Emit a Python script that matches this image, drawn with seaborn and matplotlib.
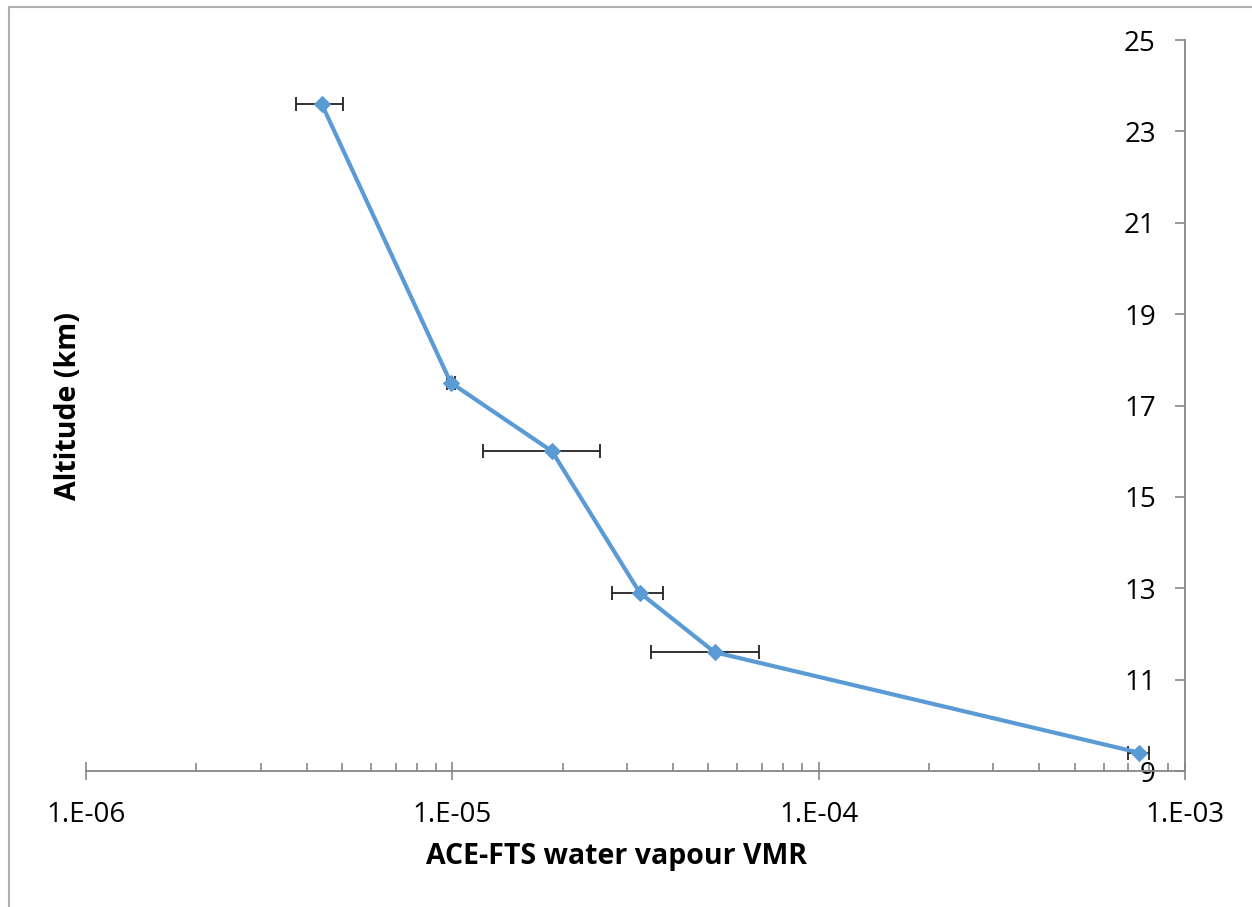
import numpy as np
import pandas as pd
import seaborn as sns
import matplotlib.pyplot as plt
from matplotlib import ticker
from matplotlib.patches import Rectangle

# values
altitude_km = [23.6, 17.5, 16.0, 12.9, 11.6, 9.4]
vmr = [4.4e-6, 9.9e-6, 1.87e-5, 3.25e-5, 5.2e-5, 7.5e-4]
vmr_low = [3.75e-6, 9.67e-6, 1.21e-5, 2.73e-5, 3.49e-5, 7.0e-4]
vmr_high = [5.03e-6, 1.02e-5, 2.53e-5, 3.76e-5, 6.88e-5, 8.0e-4]
y_ticks = [9, 11, 13, 15, 17, 19, 21, 23, 25]

sns.set_style("white")
plt.rcParams['font.family'] = ['Open Sans', 'DejaVu Sans']

df = pd.DataFrame({'vmr': vmr, 'alt': altitude_km})
blue = '#5B9BD5'
grey = '#878787'

fig = plt.figure(figsize=(12.52, 9.07), dpi=100)
ax = fig.add_axes([86 / 1252, 1 - 771 / 907, (1185 - 86) / 1252, (771 - 40) / 907])

xerr = [np.array(vmr) - np.array(vmr_low), np.array(vmr_high) - np.array(vmr)]
ax.errorbar(vmr, altitude_km, xerr=xerr, fmt='none', ecolor='#222222',
            elinewidth=1.3, capsize=5, capthick=1.3, zorder=2)
sns.lineplot(data=df, x='vmr', y='alt', sort=False, estimator=None,
             color=blue, linewidth=3, marker='D', markersize=8,
             markeredgecolor=blue, ax=ax, zorder=3)

ax.set_xscale('log')
ax.set_xlim(1e-6, 1e-3)
ax.set_ylim(9, 25)
ax.set_yticks(y_ticks)

# excel style: value axis sits at the right end, labels inside
ax.spines['left'].set_position(('data', 1e-3))
ax.spines['right'].set_visible(False)
ax.spines['top'].set_visible(False)
for s in ['left', 'bottom']:
    ax.spines[s].set_color(grey)
    ax.spines[s].set_linewidth(1.3)

ax.xaxis.set_major_locator(ticker.LogLocator(base=10, numticks=10))
ax.xaxis.set_minor_locator(ticker.LogLocator(base=10, subs=np.arange(2, 10), numticks=20))
ax.xaxis.set_minor_formatter(ticker.NullFormatter())
ax.xaxis.set_major_formatter(ticker.FuncFormatter(lambda v, p: "1.E-%02d" % round(-np.log10(v))))

ax.tick_params(axis='x', which='both', bottom=True)
ax.tick_params(axis='y', which='major', left=True)
ax.tick_params(axis='x', which='major', direction='inout', length=13, width=1.2,
               color=grey, labelsize=20, pad=15, labelcolor='black')
ax.tick_params(axis='x', which='minor', direction='in', length=6, width=1.2, color=grey)
ax.tick_params(axis='y', which='major', direction='out', length=7, width=1.2,
               color=grey, labelsize=20, pad=14, labelcolor='black')

ax.set_xlabel('ACE-FTS water vapour VMR', fontsize=20.5, fontweight='bold', color='black')
ax.set_ylabel('Altitude (km)', fontsize=20.5, fontweight='bold', color='black')
ax.yaxis.set_label_coords(-0.003, 0.5)
ax.xaxis.set_label_coords(0.483, -0.097)

# chart area border
fig.patches.append(Rectangle((9 / 1252, -0.1), 2, 1.1 - 7 / 907, transform=fig.transFigure,
                             fill=False, edgecolor='#b0b0b0', linewidth=1.5))

plt.savefig('out.png', dpi=100)
plt.close()
